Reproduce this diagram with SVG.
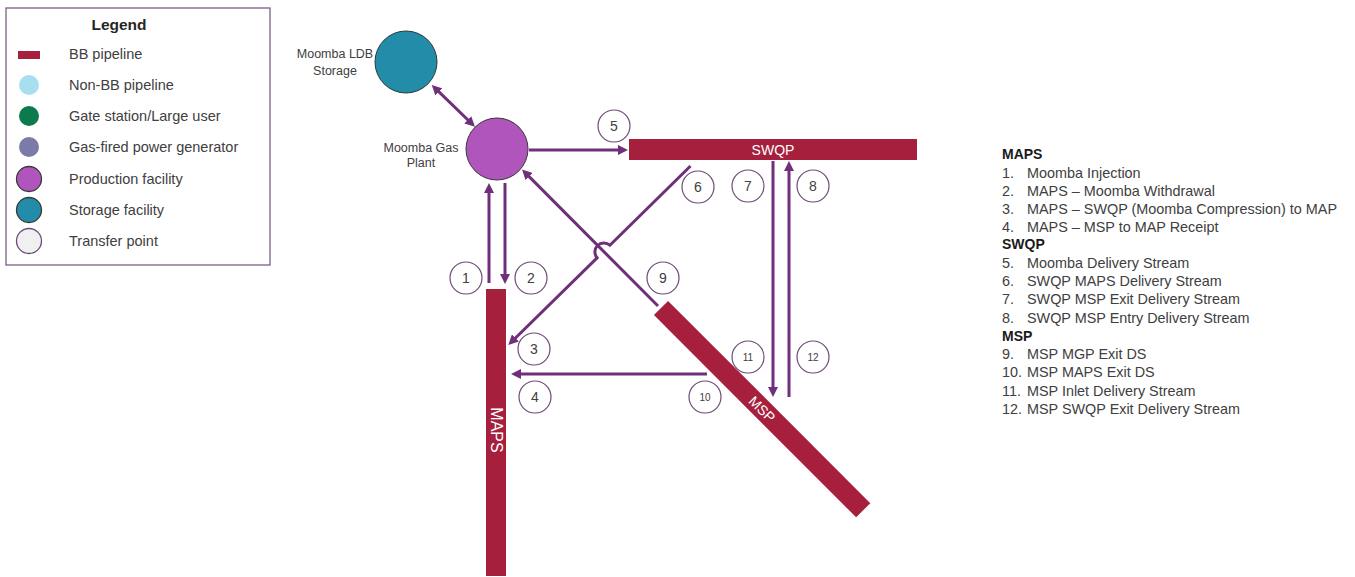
<svg xmlns="http://www.w3.org/2000/svg" width="1355" height="577" viewBox="0 0 1355 577">
<style>
text{font-family:"Liberation Sans",Arial,sans-serif;fill:#404040}
.lg{font-size:14.5px}
.lbl{font-size:12.5px;text-anchor:middle}
.num{font-size:14px;text-anchor:middle}
.sm{font-size:10px;text-anchor:middle}
.li{font-size:14.4px}
.hd{font-size:14px;font-weight:bold;fill:#1a1a1a}
.pipe{fill:#a6203e}
.pt{fill:#fff;font-size:14px;text-anchor:middle}
.tp{fill:#fff;stroke:#6e4a78;stroke-width:1.2}
.arr{fill:none;stroke:#702f7a;stroke-width:3;marker-end:url(#ah)}
</style>
<defs>
<marker id="ah" viewBox="0 0 10 10" markerWidth="10" markerHeight="10" markerUnits="userSpaceOnUse" refX="1" refY="5" orient="auto-start-reverse">
<path d="M0,0 L10,5 L0,10 z" fill="#702f7a"/>
</marker>
</defs>
<rect width="1355" height="577" fill="#fff"/>

<g id="legend">
<rect x="6" y="8" width="264" height="257" fill="#fff" stroke="#7f5f88" stroke-width="1.3"/>
<text x="119" y="30" text-anchor="middle" style="font-size:15.5px;font-weight:bold;fill:#262626">Legend</text>
<rect x="18" y="51" width="22" height="8" fill="#a6203e"/>
<text class="lg" x="69" y="59">BB pipeline</text>
<circle cx="29" cy="85" r="10" fill="#a8dff0"/>
<text class="lg" x="69" y="90">Non-BB pipeline</text>
<circle cx="29" cy="116" r="10" fill="#0c7a4e"/>
<text class="lg" x="69" y="121">Gate station/Large user</text>
<circle cx="29" cy="147" r="10" fill="#7b7aa8"/>
<text class="lg" x="69" y="152">Gas-fired power generator</text>
<circle cx="29" cy="179" r="12.5" fill="#b055bb" stroke="#3a3a3a" stroke-width="1.3"/>
<text class="lg" x="69" y="184">Production facility</text>
<circle cx="29" cy="210" r="12.5" fill="#238ca8" stroke="#3a3a3a" stroke-width="1.3"/>
<text class="lg" x="69" y="215">Storage facility</text>
<circle cx="29" cy="241" r="12.5" fill="#f0f0f0" stroke="#6e4a78" stroke-width="1.3"/>
<text class="lg" x="69" y="246">Transfer point</text>
</g>

<g id="connectors">
<path class="arr" style="marker-start:url(#ah)" d="M438.2,91.2 L468.5,120.5"/>
<path class="arr" d="M529,150 L619,150"/>
<path class="arr" d="M489,283 L489,192"/>
<path class="arr" d="M505,183 L505,275"/>
<path class="arr" d="M658,306 L528.4,175.9"/>
<path class="arr" d="M690.5,166 L609.9,245.2 A9,9 0 0 0 597.1,257.8 L514.7,338.7"/>
<path class="arr" d="M707,374 L520,374"/>
<path class="arr" d="M773,161 L773,388"/>
<path class="arr" d="M789,397 L789,170"/>
</g>

<g id="moomba-ldb-storage">
<circle cx="406" cy="62" r="31" fill="#238ca8" stroke="#2e3a3c" stroke-width="1"/>
<text class="lbl" x="335" y="58">Moomba LDB</text>
<text class="lbl" x="335" y="75">Storage</text>
</g>

<g id="moomba-gas-plant">
<circle cx="497" cy="149" r="31" fill="#b055bb" stroke="#3a3a3a" stroke-width="1"/>
<text class="lbl" x="421" y="152">Moomba Gas</text>
<text class="lbl" x="421" y="167">Plant</text>
</g>

<g id="swqp">
<rect class="pipe" x="629" y="139" width="288" height="21"/>
<text class="pt" x="773" y="155">SWQP</text>
</g>

<g id="maps">
<rect class="pipe" x="486" y="289" width="20" height="287"/>
<text class="pt" transform="translate(496,430) rotate(90)" y="5.5" style="font-size:16px">MAPS</text>
</g>

<g id="msp">
<g transform="translate(661,308) rotate(45)">
<rect class="pipe" x="0" y="-10" width="286" height="20"/>
<text class="pt" x="143" y="5" style="font-size:14px">MSP</text>
</g>
</g>

<g id="tp1"><circle class="tp" cx="466" cy="278" r="16"/><text class="num" x="466" y="283">1</text></g>
<g id="tp2"><circle class="tp" cx="531" cy="278" r="16"/><text class="num" x="531" y="283">2</text></g>
<g id="tp3"><circle class="tp" cx="534" cy="349" r="16"/><text class="num" x="534" y="354">3</text></g>
<g id="tp4"><circle class="tp" cx="535" cy="397" r="16"/><text class="num" x="535" y="402">4</text></g>
<g id="tp5"><circle class="tp" cx="614" cy="126" r="16"/><text class="num" x="614" y="131">5</text></g>
<g id="tp6"><circle class="tp" cx="698" cy="187" r="16"/><text class="num" x="698" y="192">6</text></g>
<g id="tp7"><circle class="tp" cx="748" cy="186" r="16"/><text class="num" x="748" y="191">7</text></g>
<g id="tp8"><circle class="tp" cx="813" cy="186" r="16"/><text class="num" x="813" y="191">8</text></g>
<g id="tp9"><circle class="tp" cx="663" cy="278" r="16"/><text class="num" x="663" y="283">9</text></g>
<g id="tp10"><circle class="tp" cx="705" cy="397" r="16"/><text class="sm" x="705" y="401">10</text></g>
<g id="tp11"><circle class="tp" cx="748" cy="357" r="16"/><text class="sm" x="748" y="361">11</text></g>
<g id="tp12"><circle class="tp" cx="813" cy="357" r="16"/><text class="sm" x="813" y="361">12</text></g>

<g id="key-list">
<text class="hd" x="1002" y="159">MAPS</text>
<text class="li" x="1002" y="178">1.</text><text class="li" x="1027" y="178">Moomba Injection</text>
<text class="li" x="1002" y="196">2.</text><text class="li" x="1027" y="196">MAPS – Moomba Withdrawal</text>
<text class="li" x="1002" y="214">3.</text><text class="li" x="1027" y="214">MAPS – SWQP (Moomba Compression) to MAP</text>
<text class="li" x="1002" y="232">4.</text><text class="li" x="1027" y="232">MAPS – MSP to MAP Receipt</text>
<text class="hd" x="1002" y="249">SWQP</text>
<text class="li" x="1002" y="268">5.</text><text class="li" x="1027" y="268">Moomba Delivery Stream</text>
<text class="li" x="1002" y="286">6.</text><text class="li" x="1027" y="286">SWQP MAPS Delivery Stream</text>
<text class="li" x="1002" y="304">7.</text><text class="li" x="1027" y="304">SWQP MSP Exit Delivery Stream</text>
<text class="li" x="1002" y="323">8.</text><text class="li" x="1027" y="323">SWQP MSP Entry Delivery Stream</text>
<text class="hd" x="1002" y="341">MSP</text>
<text class="li" x="1002" y="359">9.</text><text class="li" x="1027" y="359">MSP MGP Exit DS</text>
<text class="li" x="1002" y="377">10.</text><text class="li" x="1027" y="377">MSP MAPS Exit DS</text>
<text class="li" x="1002" y="396">11.</text><text class="li" x="1027" y="396">MSP Inlet Delivery Stream</text>
<text class="li" x="1002" y="414">12.</text><text class="li" x="1027" y="414">MSP SWQP Exit Delivery Stream</text>
</g>
</svg>
